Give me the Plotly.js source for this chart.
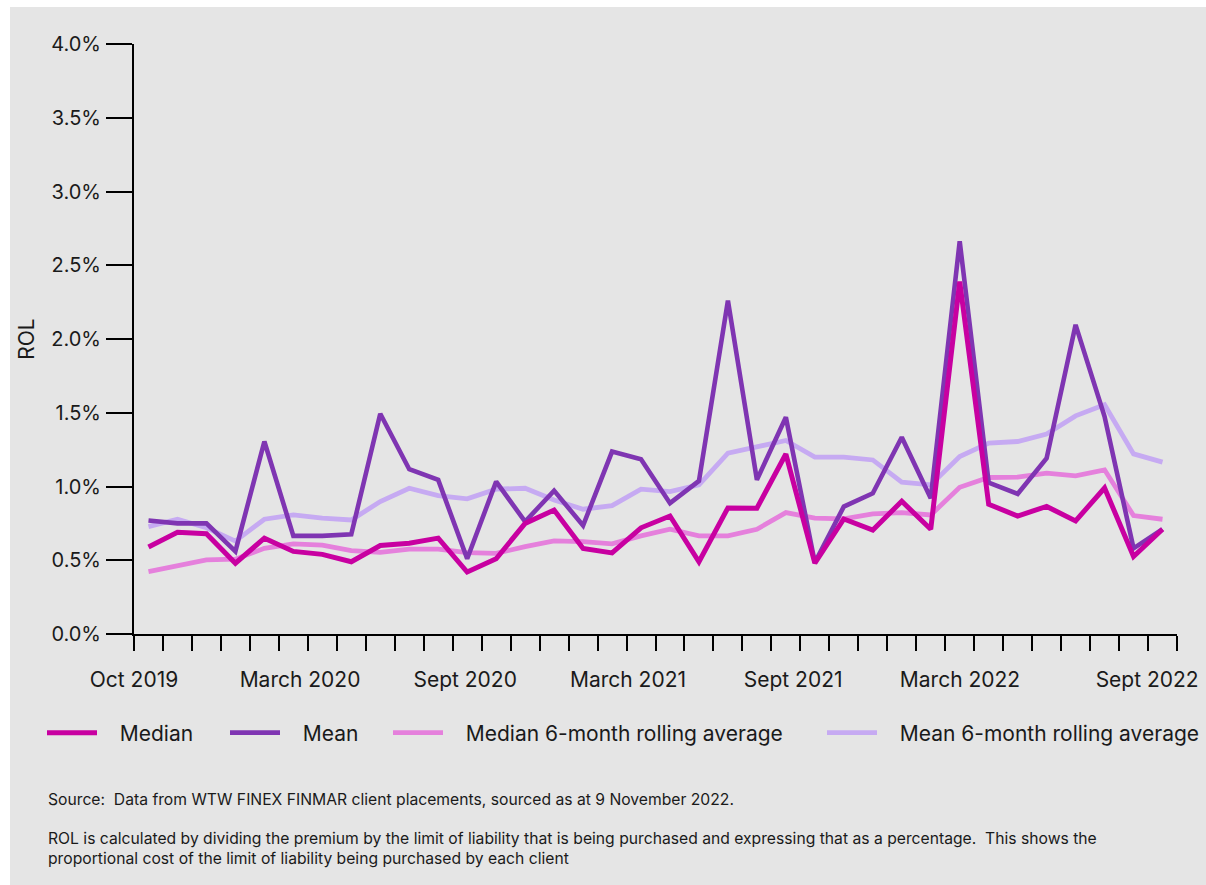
<!DOCTYPE html>
<html>
<head>
<meta charset="utf-8">
<script src="https://cdn.plot.ly/plotly-3.0.1.min.js"></script>
<style>
  html, body { margin: 0; padding: 0; background: #ffffff; }
  #bg { position: absolute; left: 10px; top: 7px; width: 1196px; height: 878px; background: #e5e5e5; }
  #chart { position: absolute; left: 0; top: 0; width: 1206px; height: 885px; }
</style>
</head>
<body>
<div id="bg"></div>
<div id="chart"></div>
<script>
// ---- data (ROL, %), monthly Oct 2019 .. Sept 2022 ----
const months = [
  "Oct 2019","Nov 2019","Dec 2019","Jan 2020","Feb 2020","Mar 2020",
  "Apr 2020","May 2020","Jun 2020","Jul 2020","Aug 2020","Sep 2020",
  "Oct 2020","Nov 2020","Dec 2020","Jan 2021","Feb 2021","Mar 2021",
  "Apr 2021","May 2021","Jun 2021","Jul 2021","Aug 2021","Sep 2021",
  "Oct 2021","Nov 2021","Dec 2021","Jan 2022","Feb 2022","Mar 2022",
  "Apr 2022","May 2022","Jun 2022","Jul 2022","Aug 2022","Sep 2022"
];
const median = [0.59, 0.69, 0.68, 0.48, 0.65, 0.56, 0.54, 0.49, 0.60, 0.615, 0.65, 0.42,
                0.51, 0.75, 0.84, 0.58, 0.55, 0.72, 0.80, 0.49, 0.855, 0.853, 1.22, 0.48,
                0.78, 0.705, 0.90, 0.71, 2.39, 0.88, 0.80, 0.865, 0.767, 0.99, 0.525, 0.71];
const mean = [0.77, 0.75, 0.75, 0.56, 1.305, 0.665, 0.665, 0.676, 1.493, 1.117, 1.045, 0.51,
              1.033, 0.762, 0.972, 0.735, 1.237, 1.185, 0.887, 1.038, 2.26, 1.045, 1.47, 0.484,
              0.864, 0.954, 1.334, 0.92, 2.662, 1.027, 0.95, 1.192, 2.096, 1.474, 0.581, 0.71];
const medianRolling = [0.423, 0.463, 0.502, 0.507, 0.581, 0.611, 0.602, 0.565, 0.554, 0.575, 0.575, 0.552,
                       0.547, 0.592, 0.631, 0.626, 0.611, 0.665, 0.710, 0.665, 0.665, 0.710, 0.823, 0.785,
                       0.780, 0.814, 0.823, 0.807, 0.995, 1.061, 1.063, 1.090, 1.072, 1.113, 0.803, 0.778];
const meanRolling = [0.728, 0.778, 0.72, 0.63, 0.778, 0.807, 0.785, 0.773, 0.898, 0.988, 0.938, 0.916,
                     0.982, 0.988, 0.909, 0.846, 0.870, 0.982, 0.965, 1.011, 1.226, 1.271, 1.312, 1.199,
                     1.199, 1.180, 1.029, 1.011, 1.203, 1.294, 1.305, 1.355, 1.479, 1.554, 1.221, 1.165];
const tickLabels = ["Oct 2019","March 2020","Sept 2020","March 2021","Sept 2021","March 2022","Sept 2022"];
const yTickValues = [0, 0.5, 1, 1.5, 2, 2.5, 3, 3.5, 4];
const seriesNames = ["Median","Mean","Median 6-month rolling average","Mean 6-month rolling average"];
const sourceNote = "Source:  Data from WTW FINEX FINMAR client placements, sourced as at 9 November 2022.";
const rolNote = "ROL is calculated by dividing the premium by the limit of liability that is being purchased and expressing that as a percentage.  This shows the<br>proportional cost of the limit of liability being purchased by each client";

// ---- layout helpers ----
const idx = months.map((m, i) => i);
const labelPos = [-0.5, 5.23, 10.93, 16.55, 22.25, 28.01, 34.47];
const boundaries = [];
for (let i = 0; i <= months.length; i++) boundaries.push(i - 0.5);

const FONT = "Inter, 'Noto Sans', sans-serif";
const TXT = "#1a1a1a";
const GAP = "\u00a0\u00a0\u00a0";

function tr(y, name, color, width, legendId) {
  return {
    x: idx, y: y, name: GAP + name, type: "scatter", mode: "lines",
    line: { color: color, width: width, shape: "linear" },
    legend: legendId, hoverinfo: "skip", customdata: months
  };
}

const traces = [
  tr(medianRolling, seriesNames[2], "#e580dc", 4.8, "legend3"),
  tr(meanRolling, seriesNames[3], "#c6aaf2", 4.8, "legend4"),
  tr(mean, seriesNames[1], "#7f35b2", 4.6, "legend2"),
  tr(median, seriesNames[0], "#c800a1", 5, "legend")
];

function legendAt(px) {
  return {
    orientation: "h", xref: "container", yref: "container",
    x: px / 1206, y: 1 - 733 / 885, xanchor: "left", yanchor: "middle",
    font: { family: FONT, size: 21, color: TXT },
    itemwidth: 50, bgcolor: "rgba(0,0,0,0)", borderwidth: 0
  };
}

const layout = {
  width: 1206, height: 885,
  paper_bgcolor: "rgba(0,0,0,0)", plot_bgcolor: "rgba(0,0,0,0)",
  margin: { l: 134, r: 29, t: 44, b: 251 },
  font: { family: FONT, color: TXT, size: 21 },
  showlegend: true,
  legend: legendAt(42),
  legend2: legendAt(225),
  legend3: legendAt(388),
  legend4: legendAt(822),
  xaxis: {
    range: [-0.5, 35.5], type: "linear", fixedrange: true,
    showline: true, linecolor: "#000", linewidth: 2,
    showgrid: false, zeroline: false,
    ticks: "outside", ticklen: 15, tickwidth: 2, tickcolor: "#000",
    tickmode: "array", tickvals: boundaries, showticklabels: false
  },
  xaxis2: {
    range: [-0.5, 35.5], type: "linear", overlaying: "x", anchor: "y", side: "bottom",
    showline: false, showgrid: false, zeroline: false, ticks: "",
    tickmode: "array", tickvals: labelPos, ticktext: tickLabels,
    ticklabelstandoff: 31,
    tickfont: { family: FONT, size: 21, color: TXT }
  },
  yaxis: {
    range: [0, 4], fixedrange: true,
    showline: true, linecolor: "#000", linewidth: 2,
    showgrid: false, zeroline: false,
    ticks: "outside", ticklen: 26, tickwidth: 2, tickcolor: "#000",
    tickmode: "array", tickvals: yTickValues,
    ticktext: yTickValues.map(v => v.toFixed(1) + "%"),
    ticklabelstandoff: 1,
    tickfont: { family: FONT, size: 20, color: TXT },
    title: { text: "ROL", font: { family: FONT, size: 21, color: TXT }, standoff: 11 }
  },
  annotations: [
    { xref: "paper", yref: "paper", x: (46 - 134) / 1043, y: (634 - 799) / 590,
      xanchor: "left", yanchor: "middle", showarrow: false, align: "left",
      text: sourceNote, font: { family: FONT, size: 15.7, color: TXT } },
    { xref: "paper", yref: "paper", x: (46 - 134) / 1043, y: (634 - 848) / 590,
      xanchor: "left", yanchor: "middle", showarrow: false, align: "left",
      text: rolNote, font: { family: FONT, size: 15.7, color: TXT } }
  ]
};

// invisible trace so the label axis (xaxis2) is drawn
traces.push({ x: [0], y: [null], xaxis: "x2", yaxis: "y", showlegend: false, hoverinfo: "skip",
              mode: "lines", type: "scatter" });

Plotly.newPlot("chart", traces, layout, { displayModeBar: false, staticPlot: true });
</script>
</body>
</html>
